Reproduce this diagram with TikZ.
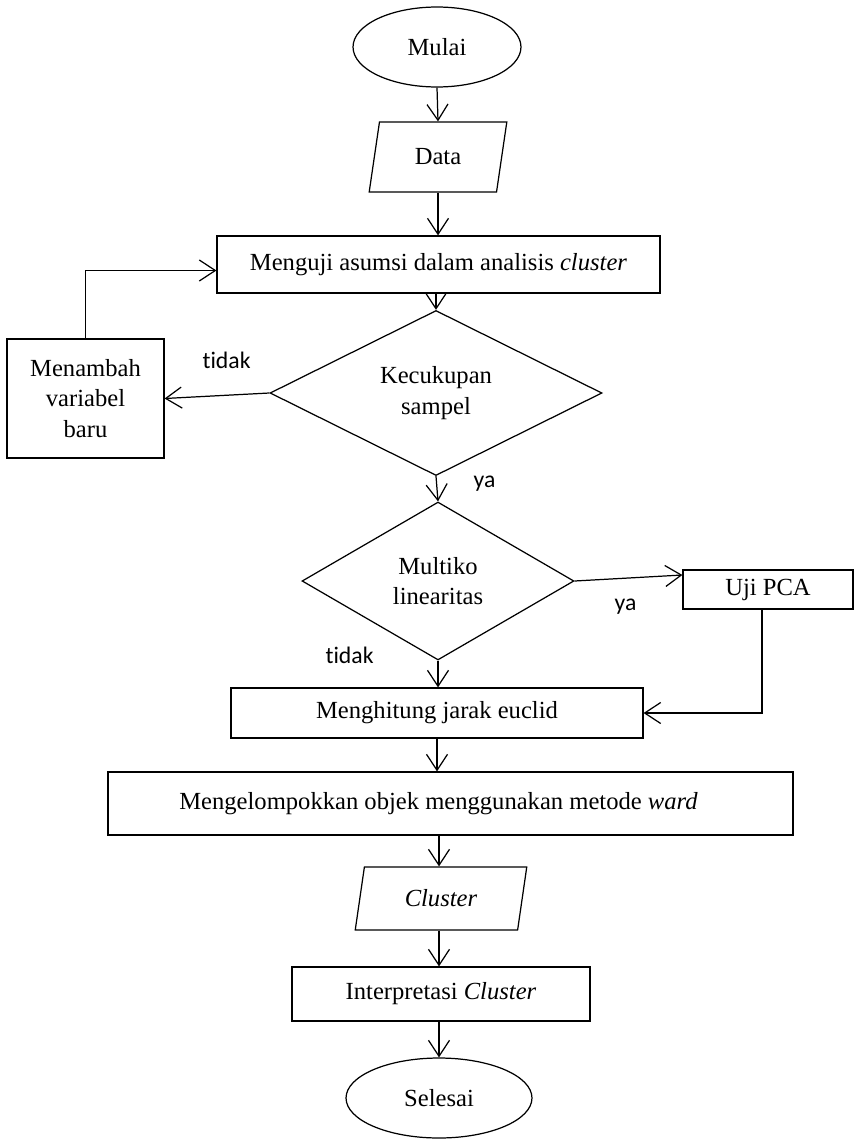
\documentclass[tikz,border=0pt]{standalone}
\usepackage{fontspec}
\setmainfont{Liberation Serif}
\newfontfamily\labelfont[Ligatures = NoCommon]{Carlito}
\usetikzlibrary{shapes.geometric,arrows.meta}
\tikzset{
    base/.style = {draw, line width = 0.7pt, inner sep = 0pt, align = center,
        font = \fontsize{14pt}{17.5pt}\selectfont},
    process/.style = {base, rectangle},
    decision/.style = {base, diamond},
    terminal/.style = {base, ellipse},
    io/.style = {base, trapezium, trapezium left angle = 76,
        trapezium right angle = 104, trapezium stretches = true},
    lbl/.style = {anchor = base west, inner sep = 0pt,
        font = \labelfont\fontsize{13.5pt}{16pt}\selectfont},
}

\begin{document}
\begin{tikzpicture}[x = 0.02cm, y = -0.02cm, line width = 0.7pt,
    >={Straight Barb[length = 0.32cm, width = 0.42cm]}]
\useasboundingbox (0,0) rectangle (856,1139);
% nodes
\node[terminal, minimum width = 3.36cm, minimum height = 1.6cm] (mulai) at (437,47) {Mulai};
\node[io, minimum width = 2.76cm, minimum height = 1.4cm] (data) at (438,157) {Data};
\node[process, minimum width = 8.86cm, minimum height = 1.14cm] (menguji) at (438.5,264.5) {Menguji asumsi dalam analisis \textit{cluster}};
\node[decision, minimum width = 6.64cm, minimum height = 3.16cm] (cukup) at (436,393) {Kecukupan\\sampel};
\node[process, minimum width = 3.14cm, minimum height = 2.38cm] (tambah) at (85.5,398.5) {Menambah\\variabel\\baru};
\node[decision, minimum width = 5.44cm, minimum height = 3.16cm] (multi) at (438,581) {Multiko\\linearitas};
\node[process, minimum width = 3.4cm, minimum height = 0.78cm] (pca) at (768,589.5) {\raisebox{0.1cm}{Uji PCA}};
\node[process, minimum width = 8.24cm, minimum height = 1.0cm] (hitung) at (437,713) {Menghitung jarak euclid};
\node[process, minimum width = 13.7cm, minimum height = 1.26cm] (kelompok) at (450.5,803.5) {\hspace*{-0.48cm}\raisebox{0.08cm}{Mengelompokkan objek menggunakan metode \textit{ward}}};
\node[io, minimum width = 3.44cm, minimum height = 1.26cm] (cluster) at (441,898.5) {\textit{Cluster}};
\node[process, minimum width = 5.96cm, minimum height = 1.08cm] (interp) at (441,994) {Interpretasi \textit{Cluster}};
\node[terminal, minimum width = 3.72cm, minimum height = 1.6cm] (selesai) at (439,1098) {Selesai};
% labels
\node[lbl] (tidak1) at (202,368) {tidak};
\node[lbl] (ya1) at (473,487) {ya};
\node[lbl] (ya2) at (614,610) {ya};
\node[lbl] (tidak2) at (325,663) {tidak};
% arrows
\draw[->] (mulai.south) -- (data.north);
\draw[->] (data.south) -- (data.south |- menguji.north);
\draw[->] (menguji.south -| cukup.north) -- (cukup.north);
\draw[->] (cukup.west) -- (tambah.east);
\draw[->] (tambah.north) |- ([yshift = -0.12cm]menguji.west);
\draw[->] (cukup.south) -- (multi.north);
\draw[->] (multi.east) -- ([yshift = 0.29cm]pca.west);
\draw[->] (multi.south) -- (multi.south |- hitung.north);
\draw[->] ([xshift = -0.12cm]pca.south) |- (hitung.east);
\draw[->] (hitung.south) -- (hitung.south |- kelompok.north);
\draw[->] (kelompok.south -| selesai.north) -- (cluster.north -| selesai.north);
\draw[->] (cluster.south -| selesai.north) -- (interp.north -| selesai.north);
\draw[->] (interp.south -| selesai.north) -- (selesai.north);
\end{tikzpicture}
\end{document}
